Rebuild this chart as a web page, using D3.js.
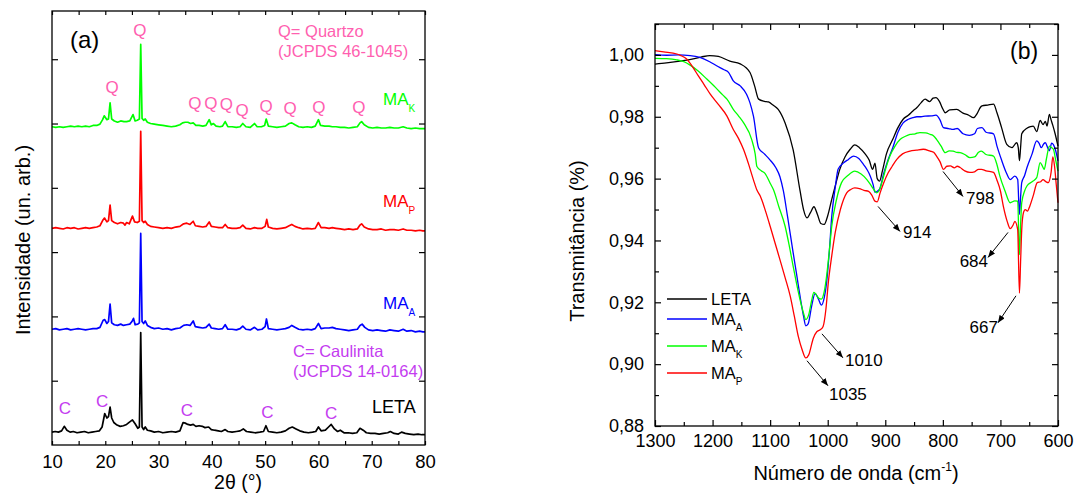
<!DOCTYPE html>
<html>
<head>
<meta charset="utf-8">
<script src="https://cdn.jsdelivr.net/npm/d3@7"></script>
<style>
  body { margin: 0; background: #fff; }
  svg text { font-family: "Liberation Sans", Arial, sans-serif; }
</style>
</head>
<body>
<svg id="chart" width="1078" height="495"></svg>
<script>
// ---------- (a) XRD: [2theta, intensity above the pattern's own baseline] ----------
const xrdOffsets = [20, 180, 337, 495];   // LETA, MA_A, MA_P, MA_K (stacking offsets)
const xrdColors = ["#000000", "#0000ff", "#ff0000", "#00ff00"];

const xrdLETA = [[10,0],[10.6,1],[11.2,0],[11.8,2],[12.3,9],[12.8,3],[13.4,0],[14,1],[14.7,-1],[15.4,0],[16.1,1],[16.8,-1],[17.5,0],[18.2,1],[18.9,2],[19.4,8],[19.9,29],[20.3,22],[20.6,24],[20.9,39],[21.2,22],[21.6,15],[22.2,11],[22.8,9],[23.4,10],[24,12],[24.6,16],[25.1,19],[25.6,13],[26.1,6],[26.4,8],[26.65,155],[26.9,8],[27.2,4],[27.5,8],[27.9,3],[28.5,2],[29.2,0],[30,1],[30.8,-1],[31.6,0],[32.4,1],[33.2,0],[34,2],[34.6,15],[35,14],[35.5,12],[36,11],[36.5,12],[37,9],[37.6,10],[38.2,9],[38.7,7],[39.4,8],[39.9,4],[40.5,3],[41.2,2],[41.8,1],[42.5,4],[43,1],[43.8,0],[44.6,1],[45.3,2],[45.9,5],[46.5,1],[47.3,0],[48.1,-1],[49,0],[49.7,1],[50.15,10],[50.6,1],[51.4,0],[52.2,-1],[53,0],[53.8,2],[54.5,6],[55.1,8],[55.8,5],[56.5,2],[57.3,0],[58.1,-1],[58.9,0],[59.5,1],[60,8],[60.5,2],[61.3,3],[61.9,8],[62.4,12],[63,5],[63.6,1],[64.1,3],[64.8,-1],[65.6,-1],[66.4,-2],[67.2,-1],[67.8,6],[68.4,3],[69,-1],[69.8,-2],[70.6,-2],[71.4,-3],[72.2,-2],[73,-1],[73.5,1],[74.2,-2],[75,-3],[75.6,0],[76.3,-2],[77.1,-3],[77.9,-4],[78.7,-3],[79.4,-4],[80,-4]];

const xrdMAA = [[10,0],[10.7,1],[11.4,-1],[12.1,0],[12.8,1],[13.5,-1],[14.2,0],[14.9,1],[15.6,0],[16.3,-1],[17,0],[17.7,1],[18.4,1],[19,3],[19.6,14],[19.9,15],[20.3,9],[20.6,12],[20.9,39],[21.2,10],[21.7,7],[22.3,6],[22.9,8],[23.4,6],[24,7],[24.6,8],[25,12],[25.3,17],[25.6,7],[26.1,8],[26.4,10],[26.65,149],[26.9,12],[27.2,9],[27.5,13],[27.9,6],[28.5,3],[29.2,1],[30,2],[30.8,0],[31.6,1],[32.4,-1],[33.2,1],[34,2],[34.7,6],[35.3,7],[35.9,6],[36.5,13],[36.9,4],[37.6,3],[38.3,2],[38.9,3],[39.5,8],[39.9,2],[40.6,1],[41.3,0],[42,1],[42.5,7],[43,0],[43.8,0],[44.6,-1],[45.3,1],[45.8,5],[46.4,0],[47.2,-1],[48,3],[48.6,-1],[49.4,0],[50,4],[50.25,16],[50.6,1],[51.4,0],[52.2,-1],[53,0],[53.8,1],[54.5,3],[55,6],[55.6,3],[56.3,0],[57.1,-1],[57.9,0],[58.7,-1],[59.4,1],[60,9],[60.5,1],[61.2,2],[62,2],[62.6,3],[63.3,1],[64.1,0],[64.9,-1],[65.7,-2],[66.5,-1],[67.3,0],[67.8,6],[68.2,8],[68.7,3],[69.4,-1],[70.2,-2],[71,-1],[71.8,-2],[72.6,-3],[73.4,-1],[74.2,-2],[75,-3],[75.9,0],[76.6,-3],[77.4,-2],[78.2,-4],[79,-3],[79.6,-4],[80,-4]];

const xrdMAP = [[10,0],[10.7,1],[11.4,0],[12.1,-1],[12.8,1],[13.5,0],[14.2,1],[14.9,-1],[15.6,0],[16.3,1],[17,0],[17.7,1],[18.4,2],[19,4],[19.5,12],[19.85,16],[20.3,10],[20.6,12],[20.9,36],[21.2,12],[21.7,9],[22.3,7],[22.9,9],[23.4,8],[23.7,5],[24,9],[24.5,7],[25.1,19],[25.5,10],[26,9],[26.4,11],[26.65,151],[26.9,12],[27.2,9],[27.5,11],[27.9,6],[28.5,3],[29.2,2],[30,1],[30.8,0],[31.6,1],[32.4,0],[33.2,2],[34,3],[34.7,7],[35.3,8],[35.9,6],[36.5,11],[36.9,4],[37.6,3],[38.3,2],[38.9,3],[39.5,10],[39.9,3],[40.6,2],[41.3,1],[42,1],[42.5,6],[43,1],[43.8,0],[44.6,0],[45.3,1],[45.8,5],[46.4,0],[47.2,-1],[48,1],[48.6,0],[49.4,0],[50,3],[50.3,14],[50.6,2],[51.4,0],[52.2,-1],[53,0],[53.8,1],[54.5,4],[55,6],[55.6,3],[56.3,1],[57.1,-1],[57.9,0],[58.7,-1],[59.4,0],[60,9],[60.5,1],[61.2,1],[62,0],[62.6,1],[63.3,0],[64.1,-1],[64.9,-2],[65.7,-1],[66.5,-2],[67.3,-1],[67.8,5],[68.1,7],[68.6,2],[69.4,-1],[70.2,-2],[71,-2],[71.8,-1],[72.6,-3],[73.4,-2],[74.2,-2],[75,-3],[75.9,-1],[76.6,-3],[77.4,-3],[78.2,-4],[79,-3],[79.6,-4],[80,-4]];

const xrdMAK = [[10,0],[10.7,-1],[11.4,0],[12.1,-1],[12.8,0],[13.5,1],[14.2,0],[14.9,1],[15.6,0],[16.3,1],[17,0],[17.7,2],[18.4,2],[19,4],[19.5,11],[19.8,17],[20.3,11],[20.6,12],[20.9,37],[21.2,12],[21.7,9],[22.3,7],[22.9,9],[23.5,8],[24,8],[24.6,9],[25.2,19],[25.6,9],[26,10],[26.4,12],[26.65,128],[26.9,13],[27.2,10],[27.5,12],[27.9,7],[28.5,5],[29.2,4],[30,3],[30.8,2],[31.6,1],[32.4,0],[33.2,1],[34,3],[34.5,6],[35,7],[35.5,7],[36,5],[36.5,6],[37,2],[37.6,2],[38.3,1],[38.9,2],[39.5,11],[39.9,3],[40.3,5],[40.8,1],[41.5,0],[42,1],[42.5,8],[43,0],[43.8,0],[44.6,-1],[45.3,0],[45.8,5],[46.4,0],[47.2,-1],[48,5],[48.5,0],[49.3,0],[49.9,2],[50.2,12],[50.6,1],[51.4,0],[52.2,-1],[53,0],[53.8,1],[54.5,5],[55,6],[55.6,3],[56.3,0],[57.1,-1],[57.9,0],[58.7,-1],[59.4,1],[60,11],[60.4,2],[61.2,1],[62,1],[62.6,0],[63.3,0],[64.1,-1],[64.9,-1],[65.7,-2],[66.5,-1],[67.3,0],[67.8,6],[68.1,8],[68.6,3],[69.4,-1],[70.2,-2],[71,-1],[71.8,-2],[72.6,-2],[73.4,-1],[74.2,-2],[75,-2],[75.9,0],[76.6,-2],[77.4,-3],[78.2,-2],[79,-3],[79.6,-3],[80,-3]];

const xrdSeries = [xrdLETA, xrdMAA, xrdMAP, xrdMAK];

// phase markers: 2theta of the labels
const quartzPeaks = [21.3, 26.5, 36.8, 39.8, 42.7, 45.7, 50.2, 54.7, 60.1, 67.6];
const kaolinitePeaks = [12.4, 19.4, 35.3, 50.4, 62.4];

// ---------- (b) FTIR: [wavenumber (cm-1), transmittance] ----------
const ftirLETA = [[1300,0.9970],[1280,0.9974],[1260,0.9979],[1240,0.9985],[1220,0.9993],[1205,0.9998],[1190,0.9995],[1170,0.9980],[1152,0.9971],[1135,0.9943],[1127,0.9900],[1120,0.9857],[1110,0.9850],[1103,0.9848],[1095,0.9838],[1086,0.9824],[1074,0.9780],[1060,0.9693],[1048,0.9560],[1042,0.9500],[1036,0.9473],[1030,0.9490],[1024,0.9509],[1018,0.9485],[1012,0.9455],[1006,0.9452],[1000,0.9480],[993,0.9533],[985,0.9590],[979,0.9630],[970,0.9670],[961,0.9695],[953,0.9709],[945,0.9700],[935,0.9680],[928,0.9660],[922,0.9630],[918,0.9650],[914,0.9600],[910,0.9592],[905,0.9625],[898,0.9680],[887,0.9727],[878,0.9765],[869,0.9792],[860,0.9805],[852,0.9819],[845,0.9830],[838,0.9845],[831,0.9857],[823,0.9849],[817,0.9860],[812,0.9862],[806,0.9850],[800,0.9825],[796,0.9813],[788,0.9822],[776,0.9824],[765,0.9812],[755,0.9805],[747,0.9797],[740,0.9812],[735,0.9830],[732,0.9835],[722,0.9838],[712,0.9841],[706,0.9813],[698,0.9765],[689,0.9711],[680,0.9700],[672,0.9716],[669,0.9700],[667,0.9658],[665,0.9700],[663,0.9745],[654,0.9763],[648,0.9768],[643,0.9770],[637,0.9752],[631,0.9788],[626,0.9775],[622,0.9785],[619,0.9770],[615,0.9808],[612,0.9790],[609,0.9772],[605,0.9745],[600,0.9705]];

const ftirMAA = [[1300,1.0001],[1280,0.9999],[1260,1.0000],[1239,0.9998],[1222,0.9992],[1205,0.9978],[1193,0.9965],[1180,0.9952],[1172,0.9943],[1164,0.9916],[1152,0.9900],[1141,0.9873],[1135,0.9845],[1129,0.9802],[1120,0.9699],[1110,0.9680],[1100,0.9660],[1090,0.9635],[1083,0.9606],[1077,0.9560],[1070,0.9480],[1060,0.9360],[1054,0.9290],[1048,0.9219],[1042,0.9155],[1038,0.9124],[1034,0.9130],[1028,0.9187],[1022,0.9228],[1016,0.9210],[1011,0.9191],[1006,0.9215],[1002,0.9263],[997,0.9370],[993,0.9478],[987,0.9570],[982,0.9630],[973,0.9650],[964,0.9662],[955,0.9673],[946,0.9665],[938,0.9646],[932,0.9630],[926,0.9608],[921,0.9580],[918,0.9556],[913,0.9560],[909,0.9570],[903,0.9615],[897,0.9651],[887,0.9700],[878,0.9750],[869,0.9780],[860,0.9792],[852,0.9797],[845,0.9800],[838,0.9800],[831,0.9802],[820,0.9803],[812,0.9805],[805,0.9790],[799,0.9765],[790,0.9762],[782,0.9759],[775,0.9762],[765,0.9745],[754,0.9740],[745,0.9745],[740,0.9762],[732,0.9765],[725,0.9750],[712,0.9745],[706,0.9705],[698,0.9660],[690,0.9620],[683,0.9597],[675,0.9608],[670,0.9597],[667,0.9484],[665,0.9540],[663,0.9587],[658,0.9610],[654,0.9635],[645,0.9680],[637,0.9722],[633,0.9715],[629,0.9700],[625,0.9712],[622,0.9716],[618,0.9700],[615,0.9690],[611,0.9715],[608,0.9710],[604,0.9690],[600,0.9657]];

const ftirMAK = [[1300,0.9989],[1280,0.9988],[1262,0.9984],[1250,0.9978],[1239,0.9967],[1225,0.9948],[1210,0.9922],[1195,0.9895],[1182,0.9870],[1175,0.9857],[1164,0.9824],[1155,0.9803],[1146,0.9780],[1132,0.9726],[1126,0.9680],[1123,0.9639],[1115,0.9625],[1109,0.9617],[1100,0.9585],[1094,0.9563],[1085,0.9510],[1074,0.9446],[1067,0.9385],[1060,0.9316],[1054,0.9260],[1048,0.9208],[1042,0.9165],[1038,0.9144],[1033,0.9160],[1028,0.9205],[1024,0.9232],[1020,0.9225],[1016,0.9214],[1011,0.9210],[1006,0.9235],[1002,0.9284],[997,0.9370],[993,0.9446],[985,0.9530],[976,0.9587],[965,0.9610],[953,0.9624],[942,0.9615],[932,0.9597],[924,0.9576],[918,0.9560],[915,0.9554],[911,0.9560],[906,0.9587],[898,0.9640],[892,0.9673],[883,0.9705],[874,0.9727],[865,0.9737],[857,0.9743],[848,0.9745],[840,0.9749],[830,0.9748],[822,0.9743],[816,0.9738],[811,0.9727],[803,0.9705],[796,0.9684],[789,0.9690],[782,0.9689],[776,0.9685],[770,0.9684],[762,0.9678],[753,0.9668],[745,0.9670],[738,0.9685],[733,0.9689],[725,0.9678],[712,0.9673],[706,0.9645],[701,0.9608],[692,0.9560],[683,0.9522],[675,0.9528],[670,0.9527],[667,0.9354],[665,0.9450],[663,0.9522],[658,0.9560],[654,0.9576],[645,0.9590],[637,0.9603],[631,0.9652],[627,0.9640],[624,0.9630],[620,0.9665],[615,0.9705],[611,0.9700],[608,0.9695],[604,0.9660],[600,0.9624]];

const ftirMAP = [[1300,1.0014],[1285,1.0010],[1262,1.0003],[1255,0.9998],[1245,0.9987],[1235,0.9962],[1225,0.9933],[1215,0.9905],[1204,0.9873],[1190,0.9840],[1175,0.9802],[1164,0.9759],[1155,0.9730],[1146,0.9693],[1138,0.9650],[1129,0.9596],[1123,0.9563],[1117,0.9543],[1108,0.9495],[1100,0.9446],[1092,0.9395],[1083,0.9338],[1074,0.9280],[1065,0.9219],[1058,0.9155],[1051,0.9089],[1045,0.9050],[1038,0.9020],[1033,0.9030],[1025,0.9084],[1019,0.9105],[1013,0.9111],[1008,0.9122],[1003,0.9180],[999,0.9263],[993,0.9350],[987,0.9425],[978,0.9500],[967,0.9554],[960,0.9565],[953,0.9570],[945,0.9568],[937,0.9562],[929,0.9559],[923,0.9545],[918,0.9527],[914,0.9525],[909,0.9554],[903,0.9585],[895,0.9619],[888,0.9640],[880,0.9662],[870,0.9680],[857,0.9689],[846,0.9692],[834,0.9695],[822,0.9689],[816,0.9685],[811,0.9673],[805,0.9655],[799,0.9630],[793,0.9640],[787,0.9641],[780,0.9635],[775,0.9640],[770,0.9636],[762,0.9625],[753,0.9620],[745,0.9622],[738,0.9630],[733,0.9630],[725,0.9625],[712,0.9620],[706,0.9595],[700,0.9560],[695,0.9511],[688,0.9460],[683,0.9438],[678,0.9450],[675,0.9462],[670,0.9435],[667,0.9230],[665,0.9330],[663,0.9435],[660,0.9490],[657,0.9500],[653,0.9495],[649,0.9511],[643,0.9545],[636,0.9587],[630,0.9590],[626,0.9597],[621,0.9590],[617,0.9587],[612,0.9620],[609,0.9670],[606,0.9640],[603,0.9580],[600,0.9522]];

const ftirSeries = [ftirLETA, ftirMAA, ftirMAK, ftirMAP];
const ftirNames = [["LETA", ""], ["MA", "A"], ["MA", "K"], ["MA", "P"]];
const ftirColors = ["#000000", "#0000ff", "#00ff00", "#ff0000"];

// band labels: [label, wavenumber, transmittance at the arrow tip]
const bands = [["1035", 1036, 0.9011], ["1010", 1010, 0.9098], ["914", 912.6, 0.9510],
               ["798", 799.7, 0.9623], ["684", 686.8, 0.9426], ["667", 673, 0.9221]];

const FONT = "'Liberation Sans', Arial, sans-serif";
const svg = d3.select("#chart");

svg.append("defs").append("marker")
    .attr("id", "arrow")
    .attr("viewBox", "0 0 10 8")
    .attr("refX", 10)
    .attr("refY", 4)
    .attr("markerWidth", 8)
    .attr("markerHeight", 6)
    .attr("markerUnits", "userSpaceOnUse")
    .attr("orient", "auto")
    .append("path")
    .attr("d", "M0,0 L10,4 L0,8 z")
    .attr("fill", "#000");

// small helper: text with an optional subscript
function labelSub(g, x, y, main, sub, color, size, subSize, subDy) {
    const t = g.append("text")
        .attr("x", x)
        .attr("y", y)
        .attr("fill", color)
        .attr("font-size", size)
        .text(main);
    if (sub) {
        t.append("tspan")
            .attr("font-size", subSize)
            .attr("dy", subDy)
            .text(sub);
    }
    return t;
}

function styleAxis(g, size) {
    g.attr("font-family", FONT).attr("font-size", size);
    g.select(".domain").remove();
    g.selectAll(".tick line").attr("stroke", "#000").attr("stroke-width", 1.2);
    g.selectAll(".tick text").attr("fill", "#000");
}

// ================= panel (a) =================
const xA = d3.scaleLinear().domain([10, 80]).range([52, 425]);
const yA = d3.scaleLinear().domain([0, 675]).range([445, 11]);
const gA = svg.append("g");

const lineA = d3.line()
    .x(d => xA(d[0]))
    .y(d => yA(d[1]));

xrdSeries.forEach((s, i) => {
    gA.append("path")
        .datum(s.map(p => [p[0], p[1] + xrdOffsets[i]]))
        .attr("d", lineA)
        .attr("fill", "none")
        .attr("stroke", xrdColors[i])
        .attr("stroke-width", 1.7)
        .attr("stroke-linejoin", "round");
});

const xTicksA = d3.range(10, 81, 5);
gA.append("g")
    .attr("transform", `translate(0,${yA(0)})`)
    .call(d3.axisBottom(xA).tickValues(xTicksA).tickSizeInner(-4).tickSizeOuter(0)
        .tickPadding(10).tickFormat(d => d % 10 === 0 ? d : ""))
    .call(g => styleAxis(g, 18.5));
gA.append("g")
    .attr("transform", `translate(0,${yA(675)})`)
    .call(d3.axisTop(xA).tickValues(xTicksA).tickSizeInner(-4).tickSizeOuter(0).tickFormat(""))
    .call(g => styleAxis(g, 18.5));
const yTicksA = d3.range(100, 601, 100);
gA.append("g")
    .attr("transform", `translate(${xA(10)},0)`)
    .call(d3.axisLeft(yA).tickValues(yTicksA).tickSizeInner(-6).tickSizeOuter(0).tickFormat(""))
    .call(g => styleAxis(g, 18.5));
gA.append("g")
    .attr("transform", `translate(${xA(80)},0)`)
    .call(d3.axisRight(yA).tickValues(yTicksA).tickSizeInner(-6).tickSizeOuter(0).tickFormat(""))
    .call(g => styleAxis(g, 18.5));

gA.append("rect")
    .attr("x", xA(10)).attr("y", yA(675))
    .attr("width", xA(80) - xA(10)).attr("height", yA(0) - yA(675))
    .attr("fill", "none").attr("stroke", "#000").attr("stroke-width", 1.3);

gA.append("text")
    .attr("x", 30).attr("y", 240)
    .attr("transform", "rotate(-90,30,240)")
    .attr("text-anchor", "middle")
    .attr("font-size", 20)
    .text("Intensidade (un. arb.)");
gA.append("text")
    .attr("x", 238).attr("y", 489)
    .attr("text-anchor", "middle")
    .attr("font-size", 19.5)
    .text("2θ (°)");
gA.append("text")
    .attr("x", 70).attr("y", 48)
    .attr("font-size", 24)
    .text("(a)");

// series names
labelSub(gA, 383, 105, "MA", "K", "#00ff00", 17, 10, 7);
labelSub(gA, 383, 207, "MA", "P", "#ff0000", 17, 10, 7);
labelSub(gA, 383, 309, "MA", "A", "#0000ff", 17, 10, 7);
labelSub(gA, 372, 413, "LETA", "", "#000000", 18);

// phase markers
const qColor = "#ff5fb0";
const cColor = "#c43cf0";
const qY = [87, 30, 103, 103, 104, 110, 106, 108, 107, 107];
gA.selectAll(".qmark")
    .data(quartzPeaks)
    .enter()
    .append("text")
    .attr("x", d => xA(d))
    .attr("y", (d, i) => qY[i])
    .attr("dy", "0.35em")
    .attr("text-anchor", "middle")
    .attr("font-size", 17)
    .attr("fill", qColor)
    .text("Q");
const cY = [408, 401, 410, 412, 413];
gA.selectAll(".cmark")
    .data(kaolinitePeaks)
    .enter()
    .append("text")
    .attr("x", d => xA(d))
    .attr("y", (d, i) => cY[i])
    .attr("dy", "0.35em")
    .attr("text-anchor", "middle")
    .attr("font-size", 17)
    .attr("fill", cColor)
    .text("C");

gA.append("text").attr("x", 278).attr("y", 37).attr("font-size", 16.5).attr("fill", qColor).text("Q= Quartzo");
gA.append("text").attr("x", 278).attr("y", 57).attr("font-size", 16.5).attr("fill", qColor).text("(JCPDS 46-1045)");
gA.append("text").attr("x", 293).attr("y", 357).attr("font-size", 16.5).attr("fill", cColor).text("C= Caulinita");
gA.append("text").attr("x", 293).attr("y", 377).attr("font-size", 16.5).attr("fill", cColor).text("(JCPDS 14-0164)");

// ================= panel (b) =================
const xB = d3.scaleLinear().domain([1300, 600]).range([655, 1058]);
const yB = d3.scaleLinear().domain([0.88, 1.01]).range([426, 24]);
const gB = svg.append("g");

const lineB = d3.line()
    .x(d => xB(d[0]))
    .y(d => yB(d[1]))
    .curve(d3.curveMonotoneX);

ftirSeries.forEach((s, i) => {
    gB.append("path")
        .datum(s)
        .attr("d", lineB)
        .attr("fill", "none")
        .attr("stroke", ftirColors[i])
        .attr("stroke-width", 1.3);
});

const xTicksB = d3.range(600, 1301, 50);
const yTicksB = d3.range(88, 102).map(v => v / 100);
const commaFmt = d => d3.format(".2f")(d).replace(".", ",");

gB.append("g")
    .attr("transform", `translate(0,${yB(0.88)})`)
    .call(d3.axisBottom(xB).tickValues(xTicksB).tickSizeInner(-6).tickSizeOuter(0)
        .tickPadding(8).tickFormat(d => d % 100 === 0 ? d : ""))
    .call(g => styleAxis(g, 18))
    .call(g => g.selectAll(".tick line").attr("y2", d => d % 100 === 0 ? -6 : -4));
gB.append("g")
    .attr("transform", `translate(0,${yB(1.01)})`)
    .call(d3.axisTop(xB).tickValues(xTicksB).tickSizeInner(-6).tickSizeOuter(0).tickFormat(""))
    .call(g => styleAxis(g, 18))
    .call(g => g.selectAll(".tick line").attr("y2", d => d % 100 === 0 ? 6 : 4));
gB.append("g")
    .attr("transform", `translate(${xB(1300)},0)`)
    .call(d3.axisLeft(yB).tickValues(yTicksB).tickSizeInner(-6).tickSizeOuter(0)
        .tickPadding(11).tickFormat(d => Math.round(d * 100) % 2 === 0 ? commaFmt(d) : ""))
    .call(g => styleAxis(g, 18))
    .call(g => g.selectAll(".tick line").attr("x2", d => Math.round(d * 100) % 2 === 0 ? 6 : 4));
gB.append("g")
    .attr("transform", `translate(${xB(600)},0)`)
    .call(d3.axisRight(yB).tickValues(yTicksB).tickSizeInner(-6).tickSizeOuter(0).tickFormat(""))
    .call(g => styleAxis(g, 18))
    .call(g => g.selectAll(".tick line").attr("x2", d => Math.round(d * 100) % 2 === 0 ? -6 : -4));

gB.append("rect")
    .attr("x", xB(1300)).attr("y", yB(1.01))
    .attr("width", xB(600) - xB(1300)).attr("height", yB(0.88) - yB(1.01))
    .attr("fill", "none").attr("stroke", "#000").attr("stroke-width", 1.3);

gB.append("text")
    .attr("x", 584).attr("y", 241)
    .attr("transform", "rotate(-90,584,241)")
    .attr("text-anchor", "middle")
    .attr("font-size", 20)
    .text("Transmitância (%)");
const xt = gB.append("text")
    .attr("x", 856).attr("y", 480)
    .attr("text-anchor", "middle")
    .attr("font-size", 20)
    .text("Número de onda (cm");
xt.append("tspan").attr("font-size", 12).attr("dy", -9).text("-1");
xt.append("tspan").attr("dy", 9).text(")");
gB.append("text")
    .attr("x", 1010).attr("y", 59)
    .attr("font-size", 23)
    .text("(b)");

// legend
const legY = [299, 319, 346, 373];
ftirNames.forEach((n, i) => {
    gB.append("line")
        .attr("x1", 667).attr("x2", 707)
        .attr("y1", legY[i]).attr("y2", legY[i])
        .attr("stroke", ftirColors[i]).attr("stroke-width", 1.3);
    labelSub(gB, 711, legY[i] + 6, n[0], n[1], "#000", 16.5, 10, 6);
});

// band annotations: arrow from the band to its label
const bandLayout = [
    {dx: 21, dy: 25, anchor: "start", tx: 1, ty: 14},
    {dx: 21, dy: 24, anchor: "start", tx: 2, ty: 8},
    {dx: 22, dy: 25, anchor: "start", tx: 3, ty: 7},
    {dx: 20, dy: 25, anchor: "start", tx: 3, ty: 7},
    {dx: -20, dy: 25, anchor: "end", tx: 0, ty: 10},
    {dx: -18, dy: 27, anchor: "end", tx: 0, ty: 10}
];
bands.forEach((b, i) => {
    const L = bandLayout[i];
    const x0 = xB(b[1]), y0 = yB(b[2]);
    gB.append("line")
        .attr("x1", x0).attr("y1", y0)
        .attr("x2", x0 + L.dx).attr("y2", y0 + L.dy)
        .attr("stroke", "#000").attr("stroke-width", 1)
        .attr("marker-end", "url(#arrow)");
    gB.append("text")
        .attr("x", x0 + L.dx + L.tx)
        .attr("y", y0 + L.dy + L.ty)
        .attr("text-anchor", L.anchor)
        .attr("font-size", 17)
        .text(b[0]);
});
</script>
</body>
</html>
